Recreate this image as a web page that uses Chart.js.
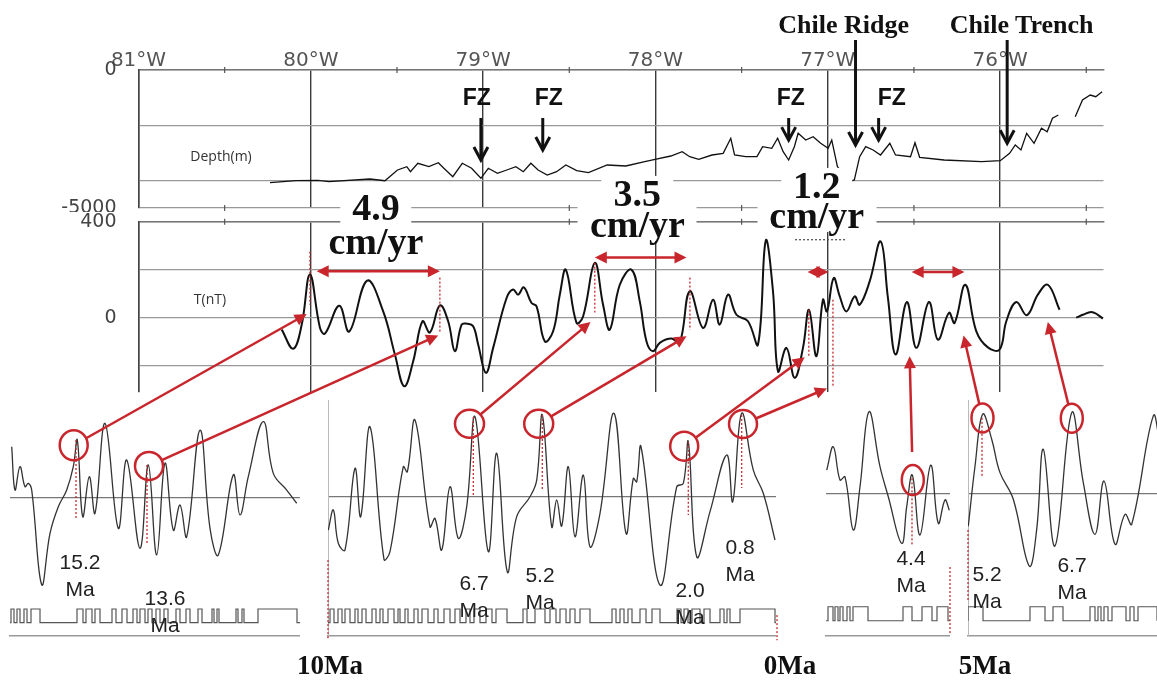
<!DOCTYPE html>
<html>
<head>
<meta charset="utf-8">
<script src="https://cdn.jsdelivr.net/npm/chart.js@4/dist/chart.umd.min.js"></script>
<style>
body { margin: 0; width: 1157px; height: 681px; overflow: hidden; position: relative; background: #fff; }
canvas { position: absolute; }
.lbl { position: absolute; white-space: nowrap; transform: translate(-50%, -50%); line-height: 1; color: #111; }
.fz { font: bold 23px 'Liberation Sans Narrow', 'Liberation Sans', sans-serif; }
.place { font: bold 26px 'Liberation Serif', serif; }
.rate { font: bold 38px 'Liberation Serif', serif; background: #fff; padding: 0 12px; line-height: 0.9; }
.age { font: 21px 'Liberation Sans', sans-serif; line-height: 27px; text-align: center; color: #222; }
.time { font: bold 27px 'Liberation Serif', serif; }
.axname { font: 14px 'Open Sans', sans-serif; color: #333; }
</style>
</head>
<body>
<canvas id="depthChart" width="1157" height="212" style="left:0;top:0"></canvas>
<canvas id="magChart" width="1157" height="188" style="left:0;top:212px"></canvas>
<canvas id="oldChart" width="292" height="238" style="left:8px;top:400px"></canvas>
<canvas id="midChart" width="450" height="238" style="left:326px;top:400px"></canvas>
<canvas id="eastAChart" width="126" height="238" style="left:824px;top:400px"></canvas>
<canvas id="eastBChart" width="191" height="238" style="left:966px;top:400px"></canvas>
<canvas id="overlay" width="1157" height="681" style="left:0;top:0;pointer-events:none"></canvas>
<script>
// ---- observed profile (top) ----
const lonTicks = [-81, -80, -79, -78, -77, -76];
const lonMinor = [-80.5, -79.5, -78.5, -77.5, -76.5, -75.5];
const depthTicks = [0, -2000, -4000, -5000];
const magTicks = [400, 200, 0, -200];

const depthLon = [-80.237,-80.086,-79.959,-79.895,-79.657,-79.570,-79.497,-79.443,-79.422,-79.379,
  -79.315,-79.260,-79.228,-79.176,-79.121,-79.067,-79.013,-78.970,-78.917,-78.863,
  -78.810,-78.767,-78.723,-78.681,-78.628,-78.574,-78.520,-78.457,-78.389,-78.280,
  -78.172,-78.062,-78.002,-77.911,-77.845,-77.801,-77.749,-77.672,-77.607,-77.563,
  -77.541,-77.476,-77.411,-77.378,-77.325,-77.291,-77.259,-77.227,-77.194,-77.172,
  -77.128,-77.085,-77.041,-76.998,-76.977,-76.944,-76.911,-76.879,-76.846,-76.815,
  -76.780,-76.737,-76.694,-76.640,-76.607,-76.520,-76.494,-76.467,-76.325,-76.107,
  -75.999,-75.945,-75.912,-75.879,-75.846,-75.803,-75.760,-75.727,-75.696,-75.662,
  -75.61,-75.564,-75.522,-75.477,-75.445,-75.408];
const depthM = [-4083,-4011,-3996,-4047,-3949,-4011,-3623,-3503,-3685,-3380,
  -3503,-3359,-3561,-3866,-3380,-3561,-3924,-3561,-3743,-3623,
  -3503,-3685,-3380,-3623,-3804,-3685,-3442,-3648,-3721,-3442,
  -3478,-3322,-3235,-3116,-2960,-3141,-3235,-3080,-3018,-2474,
  -3080,-3141,-3141,-2779,-2837,-2474,-2960,-3261,-2779,-2293,
  -2536,-2417,-2656,-2837,-2536,-3503,-3743,-4047,-3985,-3141,
  -2779,-2898,-3080,-2656,-3080,-3141,-2634,-3163,-3261,-3322,
  -3286,-3018,-2717,-2898,-2293,-2656,-2112,-2235,-1750,-1630,
  null,-1692,-1087,-906,-967,-786];

const magLon = [-80.169,-80.102,-80.053,-80.005,-79.947,-79.918,-79.835,-79.777,-79.673,-79.580,
  -79.512,-79.458,-79.406,-79.352,-79.309,-79.251,-79.203,-79.164,-79.125,-79.096,
  -79.058,-79.029,-78.984,-78.942,-78.864,-78.826,-78.797,-78.764,-78.719,-78.690,
  -78.642,-78.594,-78.555,-78.520,-78.458,-78.420,-78.352,-78.304,-78.265,-78.207,
  -78.139,-78.091,-78.052,-78.014,-77.975,-77.907,-77.859,-77.801,-77.724,-77.666,
  -77.627,-77.579,-77.530,-77.463,-77.405,-77.360,-77.318,-77.289,-77.240,-77.192,
  -77.144,-77.109,-77.066,-77.028,-77.005,-76.966,-76.931,-76.892,-76.844,-76.815,
  -76.757,-76.693,-76.651,-76.606,-76.541,-76.486,-76.413,-76.361,-76.297,-76.264,
  -76.202,-76.138,-76.071,-76.003,-75.964,-75.906,-75.845,-75.781,-75.723,-75.655,
  -75.60,-75.558,-75.520,-75.471,-75.433,-75.404];
const magT = [-50,-130,-30,180,-42,-67,50,-58,154,26,
  -154,-286,-182,-15,-62,51,-15,-140,-29,-25,
  -36,-112,-230,-126,82,117,96,126,61,47,
  -99,-57,96,200,-22,5,228,54,-50,137,
  200,68,-99,-140,-105,-87,-105,110,-43,75,
  -29,96,12,-15,-112,321,110,-224,-126,-251,
  -126,33,-161,75,26,165,90,26,89,54,
  151,318,82,-154,65,-126,65,-92,20,-22,
  137,-57,-124,-133,-15,65,10,96,137,33,
  null,0,12,24,12,-4];

// ---- model profiles (bottom), distance along model in km, anomaly in nT ----
const oldDist = [1.7,5,10,15,18.3,21.7,31.7,40,48.3,56.7,63.3,67.3,72.7,79.3,85,95,108.3,116.7,130,138.3,
  146.7,155,163.3,170,176.7,190,200,208.3,223.3,230,238.3,253.3,263.3,276.7,286.7];
const oldAnom = [266,40,162,57,75,40,-454,-186,-47,40,162,301,-99,110,-81,388,-160,197,-264,171,
  -299,180,-169,-38,-204,353,-160,-299,119,-90,110,397,127,40,-29];
const oldNormal = [[1,4],[7,10],[14,17],[21,30],[67,73],[76,82],[85,90],[102,106],[112,117],[123,127],
  [130,135],[138,142],[146,150],[154,158],[166,170],[176,180],[188,192],[202,204],[207,209],[226,228],
  [232,234],[248,287]];

const midDist = [0.3,5.3,10.3,17,27,32.7,42,56,62,75.3,79.3,87,102,107,113.7,122,130.3,138.7,147,160.3,
  168.7,179.3,188.7,202,208.7,214.3,223.7,228.7,233.7,240.3,247,255.3,262,272,286,298,305.3,308.7,313,332,
  348.7,355.3,360.3,368.7,382,398.7,404.7,413.7,425.3,435.3,447];
const midAnom = [-174,-69,-243,-278,148,-104,365,-327,-287,157,130,400,-157,-113,-278,52,-217,-52,418,-287,
  227,-392,-104,0,87,427,-157,-17,-153,157,-209,113,-261,-87,436,-191,96,78,261,-461,
  52,70,287,-313,-78,218,-26,436,139,18,-226];
const midNormal = [[2,6],[10,14],[17,22],[27,30],[34,38],[44,48],[52,55],[60,66],[70,72],[77,80],
  [86,90],[94,100],[106,110],[116,122],[127,132],[138,142],[146,152],[158,164],[168,179],[195,199],
  [207,217],[222,228],[232,238],[242,247],[252,262],[284,288],[292,296],[300,304],[312,318],[324,332],
  [349,353],[356,360],[364,372],[376,382],[392,396],[399,402],[412,447]];

const eastADist = [0.7,7.3,14,19,27.3,34,43,54,62.3,75.7,80.7,86.3,94,104.7,112.3,119,123.3];
const eastAAnom = [125,247,73,90,-188,38,430,143,-14,-257,-66,99,-214,151,-153,-31,-84];
const eastANormal = [[2,7],[9,12],[14,17],[21,24],[27,42],[77,86],[96,106],[111,122]];

const eastBDist = [0.3,7,14.7,23.7,32,45.3,61.3,68.7,75.3,87,103.7,115.3,127,136,147,157,163.7,185.3,192];
const eastBAnom = [-172,141,413,282,108,-31,-380,-188,230,-275,421,56,-214,64,-266,-110,-162,404,261];
const eastBNormal = [[0,15],[62,77],[85,95],[122,127],[130,133],[136,140],[144,158],[162,166],[170,189]];

const ages = ['15.2', '13.6', '6.7', '5.2', '2.0', '0.8', '4.4', '5.2', '6.7'];

Chart.defaults.font.family = "'DejaVu Sans', sans-serif";
Chart.defaults.color = '#444';

const pts = (xs, ys) => xs.map((x, i) => ({ x: x, y: ys[i] }));

function blockSteps(normal, end) {
    const out = [{ x: 0, y: 0 }];
    normal.forEach(([a, b]) => { out.push({ x: a, y: 1 }, { x: b, y: 0 }); });
    out.push({ x: end, y: 0 });
    return out;
}

const common = {
    animation: false,
    responsive: false,
    events: [],
    plugins: { legend: { display: false }, tooltip: { enabled: false } }
};

// small half-degree marks across the top and bottom frame lines
const minorMarks = {
    id: 'minorMarks',
    afterDraw(chart, args, opts) {
        const ctx = chart.ctx, x = chart.scales.x, area = chart.chartArea;
        ctx.save();
        ctx.strokeStyle = '#555';
        ctx.lineWidth = 1.2;
        lonMinor.forEach(v => {
            const px = x.getPixelForValue(v);
            if (px > area.right) return;
            opts.edges.forEach(edge => {
                const py = edge === 'top' ? area.top : area.bottom;
                ctx.beginPath();
                ctx.moveTo(px, py - 3);
                ctx.lineTo(px, py + 3);
                ctx.stroke();
            });
        });
        ctx.restore();
    }
};

function lonAxis(showLabels) {
    return {
        type: 'linear', position: 'top', min: -81, max: -75.4,
        afterBuildTicks: s => { s.ticks = lonTicks.map(v => ({ value: v })); },
        ticks: {
            display: showLabels, autoSkip: false, maxRotation: 0, padding: -3,
            font: { size: 20 }, color: '#555',
            callback: v => Math.abs(v) + '°W'
        },
        grid: { color: '#3a3a3a', lineWidth: 1.4, drawTicks: false },
        border: { color: '#777', width: 1.5 },
        afterFit: s => { s.height = showLabels ? 20 : 0; s.paddingLeft = 0; s.paddingRight = 0; }
    };
}

// left value axis: labels pushed away from the frame, no extra vertical padding
function valueAxis(min, max, ticks, shown) {
    return {
        min: min, max: max,
        afterBuildTicks: s => { s.ticks = ticks.map(v => ({ value: v })); },
        ticks: { padding: 22, font: { size: 19 }, color: '#444', callback: v => shown.includes(v) ? String(v) : '' },
        grid: { color: '#999', lineWidth: 1.3, drawTicks: false },
        border: { color: '#444', width: 1.5 },
        afterFit: s => { s.width = 138.5; s.paddingTop = 0; s.paddingBottom = 0; }
    };
}

const depthChart = new Chart(document.getElementById('depthChart'), {
    type: 'line',
    data: {
        datasets: [{
            data: pts(depthLon, depthM),
            borderColor: '#111', borderWidth: 1.3, pointRadius: 0, tension: 0
        }]
    },
    options: {
        ...common,
        plugins: { ...common.plugins, minorMarks: { edges: ['top', 'bottom'] } },
        layout: { padding: { top: 50, right: 53.5, bottom: 4, left: 0 } },
        scales: { x: lonAxis(true), y: valueAxis(-5000, 0, depthTicks, [0, -5000]) }
    },
    plugins: [minorMarks]
});

const magChart = new Chart(document.getElementById('magChart'), {
    type: 'line',
    data: {
        datasets: [{
            data: pts(magLon, magT),
            borderColor: '#111', borderWidth: 2, pointRadius: 0, tension: 0.4
        }]
    },
    options: {
        ...common,
        plugins: { ...common.plugins, minorMarks: { edges: ['top'] } },
        layout: { padding: { top: 9.7, right: 53.5, bottom: 8, left: 0 } },
        scales: { x: lonAxis(false), y: valueAxis(-310, 400, magTicks, [400, 0]) }
    },
    plugins: [minorMarks]
});

function modelChart(id, dist, anom, normal, xMax, yRange, bRange, showAxis) {
    return new Chart(document.getElementById(id), {
        type: 'line',
        data: {
            datasets: [
                {
                    data: pts(dist, anom), yAxisID: 'y',
                    borderColor: '#333', borderWidth: 1.3, pointRadius: 0, tension: 0.4
                },
                {
                    data: blockSteps(normal, xMax), yAxisID: 'yb', stepped: 'before',
                    borderColor: '#555', borderWidth: 1.2, pointRadius: 0
                }
            ]
        },
        options: {
            ...common,
            layout: { padding: { top: 0, right: 0, bottom: 2, left: 2 } },
            scales: {
                x: {
                    type: 'linear', min: 0, max: xMax, position: 'bottom',
                    ticks: { display: false }, grid: { display: false },
                    border: { color: '#999', width: 1.5 },
                    afterFit: s => { s.height = 0; }
                },
                y: {
                    min: yRange[0], max: yRange[1],
                    afterBuildTicks: s => { s.ticks = [{ value: 0 }]; },
                    ticks: { display: false },
                    grid: { color: '#777', lineWidth: 1.2, drawTicks: false },
                    border: { display: showAxis, color: '#bbb', width: 1 },
                    afterFit: s => { s.width = 0; }
                },
                yb: { display: false, min: bRange[0], max: bRange[1] }
            }
        }
    });
}

const panels = {
    old: modelChart('oldChart', oldDist, oldAnom, oldNormal, 290, [-722, 510], [-0.97, 16.26], false),
    mid: modelChart('midChart', midDist, midAnom, midNormal, 448, [-727, 505], [-0.97, 16.26], true),
    eastA: modelChart('eastAChart', eastADist, eastAAnom, eastANormal, 124, [-741, 491], [-1.09, 15.76], false),
    eastB: modelChart('eastBChart', eastBDist, eastBAnom, eastBNormal, 189, [-745, 487], [-1.09, 15.76], true)
};

// ---- annotations ----
const red = '#c8262c';
const ov = document.getElementById('overlay').getContext('2d');

function at(chart, x, y, axis) {
    const c = chart.canvas;
    return {
        x: c.offsetLeft + chart.scales.x.getPixelForValue(x),
        y: c.offsetTop + chart.scales[axis || 'y'].getPixelForValue(y)
    };
}

function label(html, p, cls) {
    const d = document.createElement('div');
    d.className = 'lbl ' + cls;
    d.innerHTML = html;
    d.style.left = p.x + 'px';
    d.style.top = p.y + 'px';
    document.body.appendChild(d);
}

function fillHead(p, q, len, half) {
    const a = Math.atan2(q.y - p.y, q.x - p.x), c = Math.cos(a), s = Math.sin(a);
    ov.beginPath();
    ov.moveTo(q.x, q.y);
    ov.lineTo(q.x - len * c - half * s, q.y - len * s + half * c);
    ov.lineTo(q.x - len * c + half * s, q.y - len * s - half * c);
    ov.closePath();
    ov.fill();
}

function redArrow(p, q, both) {
    const a = Math.atan2(q.y - p.y, q.x - p.x);
    ov.setLineDash([]);
    ov.strokeStyle = ov.fillStyle = red;
    ov.lineWidth = 2.5;
    const s = both ? { x: p.x + 8 * Math.cos(a), y: p.y + 8 * Math.sin(a) } : p;
    ov.beginPath();
    ov.moveTo(s.x, s.y);
    ov.lineTo(q.x - 8 * Math.cos(a), q.y - 8 * Math.sin(a));
    ov.stroke();
    fillHead(p, q, 12, 6);
    if (both) fillHead(q, p, 12, 6);
}

function blackArrow(p, q) {
    ov.setLineDash([]);
    ov.strokeStyle = '#111';
    ov.lineWidth = 3;
    ov.beginPath();
    ov.moveTo(p.x, p.y);
    ov.lineTo(q.x, q.y - 2);
    ov.stroke();
    ov.beginPath();
    ov.moveTo(q.x - 7, q.y - 13);
    ov.lineTo(q.x, q.y);
    ov.lineTo(q.x + 7, q.y - 13);
    ov.stroke();
}

function dotted(p, q, color) {
    ov.setLineDash([2, 2]);
    ov.strokeStyle = color || red;
    ov.lineWidth = 1.3;
    ov.beginPath();
    ov.moveTo(p.x, p.y);
    ov.lineTo(q.x, q.y);
    ov.stroke();
    ov.setLineDash([]);
}

// fracture zones, ridge and trench (depth panel)
const fzMarks = [
    { text: -79.037, lon: -79.013, to: -3260 },
    { text: -78.619, lon: -78.654, to: -2900 },
    { text: -77.215, lon: -77.227, to: -2540 },
    { text: -76.629, lon: -76.705, to: -2540 }
];
fzMarks.forEach(f => {
    label('FZ', at(depthChart, f.text, -978), 'fz');
    blackArrow(at(depthChart, f.lon, -1740), at(depthChart, f.lon, f.to));
});
const places = [
    { text: 'Chile Ridge', lon: -76.908, arrow: -76.839, to: -2717 },
    { text: 'Chile Trench', lon: -75.875, arrow: -75.959, to: -2656 }
];
places.forEach(f => {
    label(f.text, at(depthChart, f.lon, 1630), 'place');
    blackArrow(at(depthChart, f.arrow, 1087), at(depthChart, f.arrow, f.to));
});
label('Depth(m)', at(depthChart, -80.521, -3080), 'axname');
label('T(nT)', at(magChart, -80.585, 83), 'axname');

// spreading rates
const rates = [
    { rate: '4.9', lon: -79.622, tNum: 460, tUnit: 320 },
    { rate: '3.5', lon: -78.105, tNum: 520, tUnit: 392 },
    { rate: '1.2', lon: -77.064, tNum: 552, tUnit: 430 }
];
rates.forEach(r => {
    label('cm/yr', at(magChart, r.lon, r.tUnit), 'rate');
    label(r.rate, at(magChart, r.lon, r.tNum), 'rate');
});

// red spans between matched peaks
const spans = [
    { from: -79.966, to: -79.251, t: 193 },
    { from: -78.352, to: -77.820, t: 251 },
    { from: -77.117, to: -76.996, t: 190 },
    { from: -76.513, to: -76.207, t: 190 }
];
spans.forEach(s => redArrow(at(magChart, s.from, s.t), at(magChart, s.to, s.t), true));

const peakTicks = [
    { lon: -80.005, t1: 275, t2: 54 },
    { lon: -79.251, t1: 167, t2: -62 },
    { lon: -78.352, t1: 229, t2: 21 },
    { lon: -77.800, t1: 167, t2: -50 },
    { lon: -77.110, t1: 33, t2: -167 },
    { lon: -76.970, t1: 75, t2: -292 }
];
peakTicks.forEach(k => dotted(at(magChart, k.lon, k.t1), at(magChart, k.lon, k.t2)));
dotted(at(magChart, -77.19, 325), at(magChart, -76.89, 325), '#555');

// dotted markers in the model panels
const modelTicks = [
    { panel: 'old', d: 66, v1: 301, v2: -117 }, { panel: 'old', d: 137, v1: 171, v2: -247 },
    { panel: 'mid', d: 145.3, v1: 416, v2: 0 }, { panel: 'mid', d: 214.3, v1: 427, v2: 35 },
    { panel: 'mid', d: 360.3, v1: 287, v2: -95 }, { panel: 'mid', d: 413.7, v1: 427, v2: 45 },
    { panel: 'mid', d: 0, v1: -331, v2: -749 }, { panel: 'mid', d: 449, v1: -618, v2: -749 },
    { panel: 'eastA', d: 86, v1: 82, v2: -266 }, { panel: 'eastA', d: 124, v1: -381, v2: -726 },
    { panel: 'eastB', d: 14, v1: 394, v2: 85 }, { panel: 'eastB', d: 0, v1: -192, v2: -557 }
];
modelTicks.forEach(k => dotted(at(panels[k.panel], k.d, k.v1), at(panels[k.panel], k.d, k.v2)));

// circled model peaks linked to observed peaks
const links = [
    { panel: 'old', d: 63.7, v: 274, rx: 14, ry: 15, lon: -80.024, t: 15 },
    { panel: 'old', d: 139, v: 166, rx: 14, ry: 14, lon: -79.261, t: -74 },
    { panel: 'mid', d: 141.5, v: 381, rx: 14.5, ry: 14, lon: -78.377, t: -18 },
    { panel: 'mid', d: 210.7, v: 381, rx: 14.5, ry: 14, lon: -77.820, t: -78 },
    { panel: 'mid', d: 356.2, v: 264, rx: 14, ry: 14.5, lon: -77.134, t: -165 },
    { panel: 'mid', d: 415, v: 380, rx: 14, ry: 14, lon: -77.005, t: -295 },
    { panel: 'eastA', d: 86.8, v: 73, rx: 11, ry: 15, lon: -76.525, t: -161, gap: 13 },
    { panel: 'eastB', d: 14.5, v: 393, rx: 11, ry: 14.5, lon: -76.212, t: -74 },
    { panel: 'eastB', d: 103.8, v: 392, rx: 11, ry: 14.5, lon: -75.723, t: -18 }
];
links.forEach(l => {
    const c = at(panels[l.panel], l.d, l.v);
    const h = at(magChart, l.lon, l.t);
    ov.setLineDash([]);
    ov.strokeStyle = red;
    ov.lineWidth = 2.5;
    ov.beginPath();
    ov.ellipse(c.x, c.y, l.rx, l.ry, 0, 0, Math.PI * 2);
    ov.stroke();
    const a = Math.atan2(h.y - c.y, h.x - c.x), ca = Math.cos(a), sa = Math.sin(a);
    const r = 1 / Math.sqrt((ca / l.rx) ** 2 + (sa / l.ry) ** 2) + (l.gap || 0);
    redArrow({ x: c.x + r * ca, y: c.y + r * sa }, h, false);
});

// ages of the picked model peaks
const agePlaces = [
    { panel: 'old', d: 70, v: -404 }, { panel: 'old', d: 155, v: -592 },
    { panel: 'mid', d: 146, v: -518 }, { panel: 'mid', d: 212, v: -477 },
    { panel: 'mid', d: 362, v: -556 }, { panel: 'mid', d: 412, v: -331 },
    { panel: 'eastA', d: 85, v: -402 },
    { panel: 'eastB', d: 19, v: -489 }, { panel: 'eastB', d: 104, v: -443 }
];
agePlaces.forEach((p, i) => label(ages[i] + '<br>Ma', at(panels[p.panel], p.d, p.v), 'age'));

// time marks under the models
const timeMarks = [
    { panel: 'mid', d: 2, text: '10Ma' },
    { panel: 'mid', d: 462, text: '0Ma' },
    { panel: 'eastB', d: 17, text: '5Ma' }
];
timeMarks.forEach(m => {
    const p = at(panels[m.panel], m.d, panels[m.panel].scales.y.min);
    label(m.text, { x: p.x, y: p.y + 29 }, 'time');
});
</script>
</body>
</html>
